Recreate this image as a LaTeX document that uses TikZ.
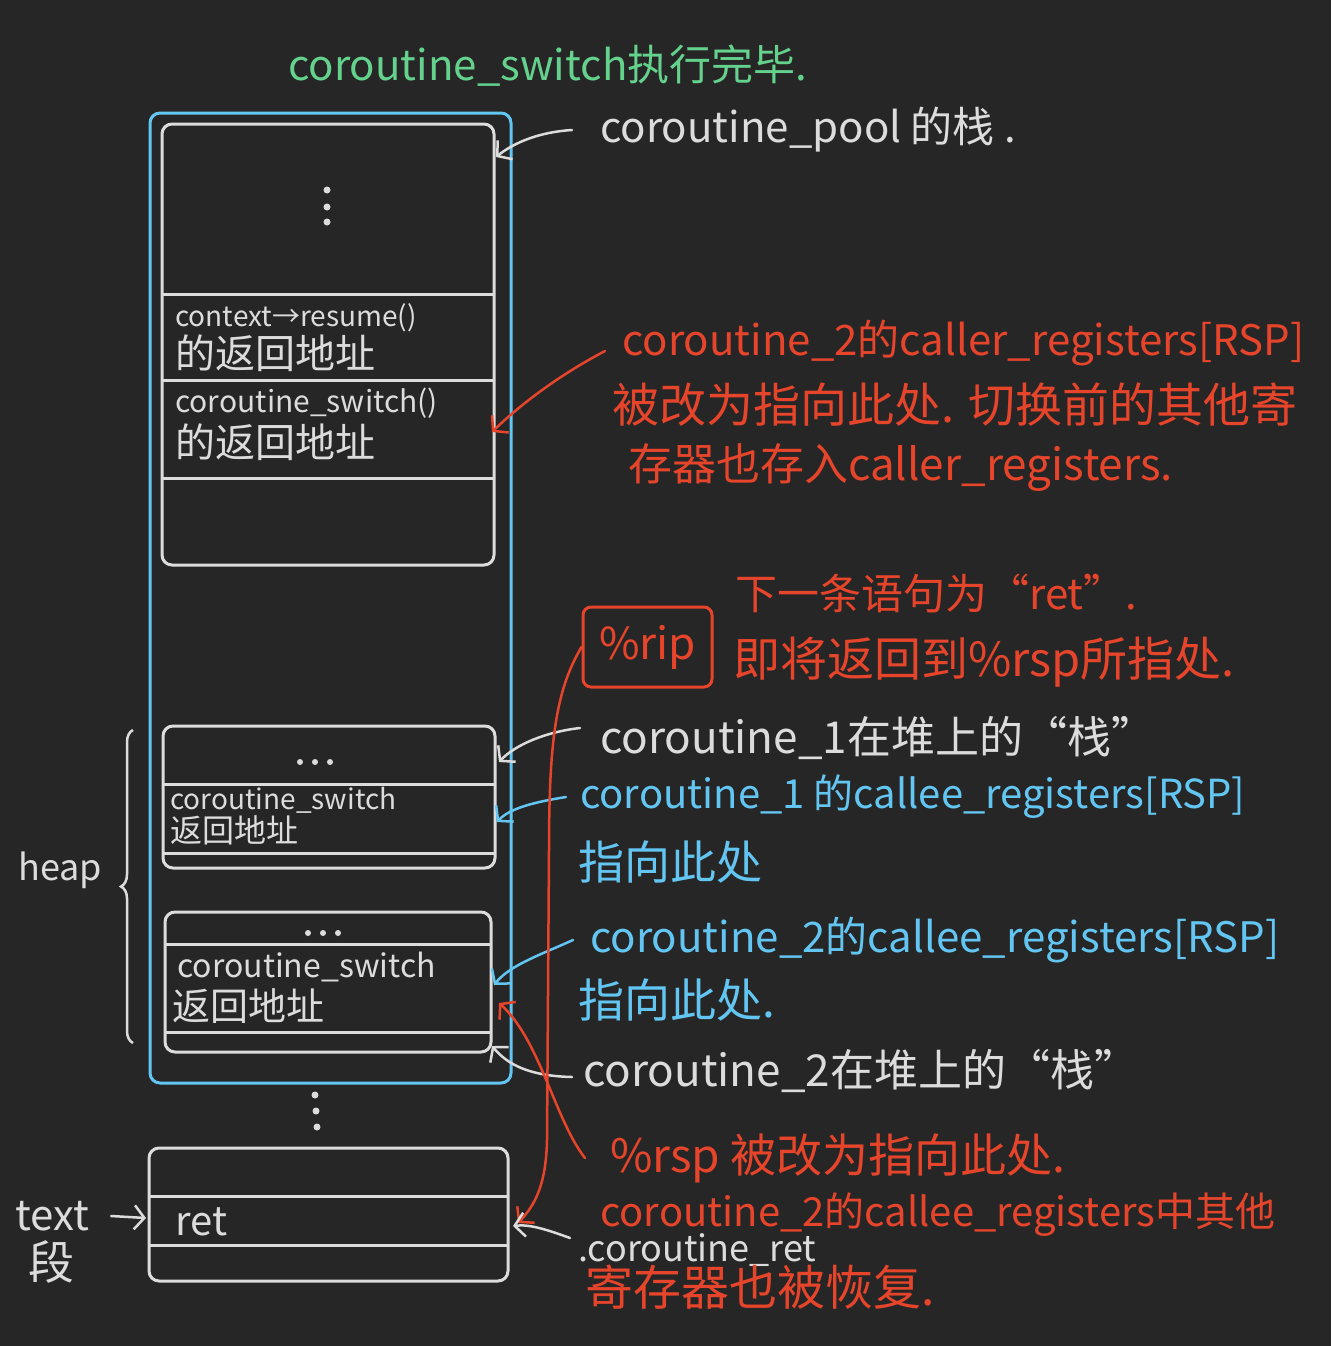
\documentclass[tikz,border=0pt]{standalone}
\usepackage{fontspec}
\setmainfont{Noto Sans CJK SC}
\usetikzlibrary{arrows.meta,decorations.pathreplacing}
\definecolor{bg}{HTML}{262626}
\definecolor{wh}{HTML}{DCDCDC}
\definecolor{bl}{HTML}{63C6F2}
\definecolor{rd}{HTML}{E6452B}
\definecolor{gr}{HTML}{64D18C}
\newcommand\fsz[1]{\fontsize{#1}{#1}\selectfont}
\begin{document}
\begin{tikzpicture}[x=1pt,y=-1pt,
  lbl/.style={inner sep=0pt,anchor=west,text=#1},
  frame/.style={draw=#1,line width=3pt,rounded corners=10pt,inner sep=0pt},
  sepline/.style={draw=wh,line width=3pt},
  arr/.style={draw=#1,line width=2.5pt,line cap=round,-{Straight Barb[length=10pt,width=24pt,line width=2.5pt]}}
]
\useasboundingbox (0,0) rectangle (1331,1346);
\fill[bg] (0,0) rectangle (1331,1346);

% boxes
\node[frame=bl,minimum width=361pt,minimum height=970pt] (outer) at (330.5,598) {};
\node[frame=wh,minimum width=332pt,minimum height=441pt] (boxA) at (328,344.5) {};
\node[frame=wh,minimum width=332pt,minimum height=142pt] (boxB) at (329,797) {};
\node[frame=wh,minimum width=326pt,minimum height=140pt] (boxC) at (328,982) {};
\node[frame=wh,minimum width=359pt,minimum height=133pt] (boxD) at (328.5,1214.5) {};

% dividers
\draw[sepline] (162,294) -- (494,294);
\draw[sepline] (162,380) -- (494,380);
\draw[sepline] (162,478) -- (494,478);
\draw[sepline] (163,784) -- (495,784);
\draw[sepline] (163,853) -- (495,853);
\draw[sepline] (165,944) -- (491,944);
\draw[sepline] (165,1032) -- (491,1032);
\draw[sepline] (149,1196) -- (508,1196);
\draw[sepline] (149,1245) -- (508,1245);

% dots
\fill[wh] (327,190) circle (3.5pt) (327,207) circle (3.5pt) (327,222) circle (3.5pt);
\fill[wh] (300,762) circle (3pt) (315,762) circle (3pt) (330,762) circle (3pt);
\fill[wh] (308,933) circle (3pt) (323,933) circle (3pt) (338,933) circle (3pt);
\fill[wh] (315,1095) circle (3.5pt) (316,1111) circle (3.5pt) (317,1127) circle (3.5pt);

% box texts
\node[lbl=wh,font=\fsz{28}] (a1) at (175,318) {context→resume()};
\node[lbl=wh,font=\fsz{40}] (a2) at (175,353) {的返回地址};
\node[lbl=wh,font=\fsz{30}] (a3) at (175,403) {coroutine\_switch()};
\node[lbl=wh,font=\fsz{40}] (a4) at (175,442) {的返回地址};
\node[lbl=wh,font=\fsz{28}] (bb1) at (170,800) {coroutine\_switch};
\node[lbl=wh,font=\fsz{32}] (bb2) at (170,830) {返回地址};
\node[lbl=wh,font=\fsz{32}] (cc1) at (177,967) {coroutine\_switch};
\node[lbl=wh,font=\fsz{38}] (cc2) at (172,1006) {返回地址};
\node[lbl=wh,font=\fsz{40}] (dret) at (175,1222) {ret};

% left labels
\node[lbl=wh,font=\fsz{36}] (heap) at (18,870) {heap};
\coordinate (hb1) at (133,1043);
\coordinate (hb2) at (133,730);
\draw[wh,line width=2.5pt,decorate,decoration={brace,amplitude=12pt}] (hb1) -- (hb2);
\node[lbl=wh,font=\fsz{42}] (txt) at (15,1216) {text};
\node[lbl=wh,font=\fsz{46}] (duan) at (28,1262) {段};
\coordinate (pT) at (146,1218);
\draw[arr=wh] ([xshift=22pt]txt.east) -- (pT);

% title
\node[lbl=gr,font=\fsz{42}] (title) at (288,66) {coroutine\_switch执行完毕.};

% pool stack label
\node[lbl=wh,font=\fsz{42}] (pool) at (600,130) {coroutine\_pool 的栈 .};
\coordinate (pA) at (496,157);
\draw[arr=wh] ([xshift=-28pt]pool.west) .. controls (540,132) and (515,142) .. (pA);

% red caller block
\node[lbl=rd,font=\fsz{42}] (r1) at (622,343) {coroutine\_2的caller\_registers[RSP]};
\node[lbl=rd,font=\fsz{47}] (r2) at (612,405) {被改为指向此处. 切换前的其他寄};
\node[lbl=rd,font=\fsz{44}] (r3) at (628,468) {存器也存入caller\_registers.};
\coordinate (pA2) at (492,432);
\draw[arr=rd] ([xshift=-17pt,yshift=-8pt]r1.west) .. controls (565,372) and (525,400) .. (pA2);

% rip
\node[draw=rd,line width=3pt,rounded corners=8pt,minimum width=129pt,minimum height=80pt,text=rd,font=\fsz{44},inner sep=0pt] (rip) at (647.5,647) {\%rip};
\node[lbl=rd,font=\fsz{42}] (nxt) at (735,593) {下一条语句为“ret”.};
\node[lbl=rd,font=\fsz{47}] (rto) at (733,662) {即将返回到\%rsp所指处.};

% coroutine_1
\node[lbl=wh,font=\fsz{44}] (c1s) at (600,738) {coroutine\_1在堆上的“栈”};
\coordinate (pB) at (499,762);
\draw[arr=wh] ([xshift=-20pt,yshift=10pt]c1s.west) .. controls (545,732) and (515,745) .. (pB);
\node[lbl=bl,font=\fsz{40}] (b1) at (580,797) {coroutine\_1 的callee\_registers[RSP]};
\node[lbl=bl,font=\fsz{46}] (b1b) at (578,862) {指向此处};
\coordinate (pB2) at (497,822);
\draw[arr=bl] ([xshift=-14pt]b1.west) .. controls (535,802) and (510,808) .. (pB2);

% coroutine_2
\node[lbl=bl,font=\fsz{42}] (b2) at (590,940) {coroutine\_2的callee\_registers[RSP]};
\node[lbl=bl,font=\fsz{46}] (b2b) at (578,1000) {指向此处.};
\coordinate (pC) at (494,985);
\draw[arr=bl] ([xshift=-17pt]b2.west) .. controls (540,955) and (510,965) .. (pC);
\node[lbl=wh,font=\fsz{44}] (c2s) at (583,1071) {coroutine\_2在堆上的“栈”};
\coordinate (pC2) at (492,1046);
\draw[arr=wh] ([xshift=-11pt,yshift=-6pt]c2s.west) .. controls (530,1076) and (508,1065) .. (pC2);

% rsp
\node[lbl=rd,font=\fsz{46}] (rsp) at (610,1158) {\%rsp 被改为指向此处.};
\coordinate (pC3) at (499,1003);
\draw[arr=rd] ([xshift=-25pt]rsp.west) .. controls (555,1120) and (540,1040) .. (pC3);

% long red line from rip to ret
\coordinate (pD2) at (518,1223);
\draw[arr=rd] (rip.west) .. controls (556,690) and (549,740) .. (549,850) -- (547,1140) .. controls (546,1185) and (535,1205) .. (pD2);

% bottom texts
\node[lbl=rd,font=\fsz{40}] (rc1) at (600,1215) {coroutine\_2的callee\_registers中其他};
\node[lbl=wh,font=\fsz{36}] (cret) at (578,1250) {.coroutine\_ret};
\node[lbl=rd,font=\fsz{48}] (rc2) at (585,1287) {寄存器也被恢复.};
\coordinate (pD) at (513,1226);
\draw[arr=wh] ([xshift=-8pt,yshift=12pt]cret.west) .. controls (548,1230) and (530,1224) .. (pD);
\end{tikzpicture}
\end{document}
